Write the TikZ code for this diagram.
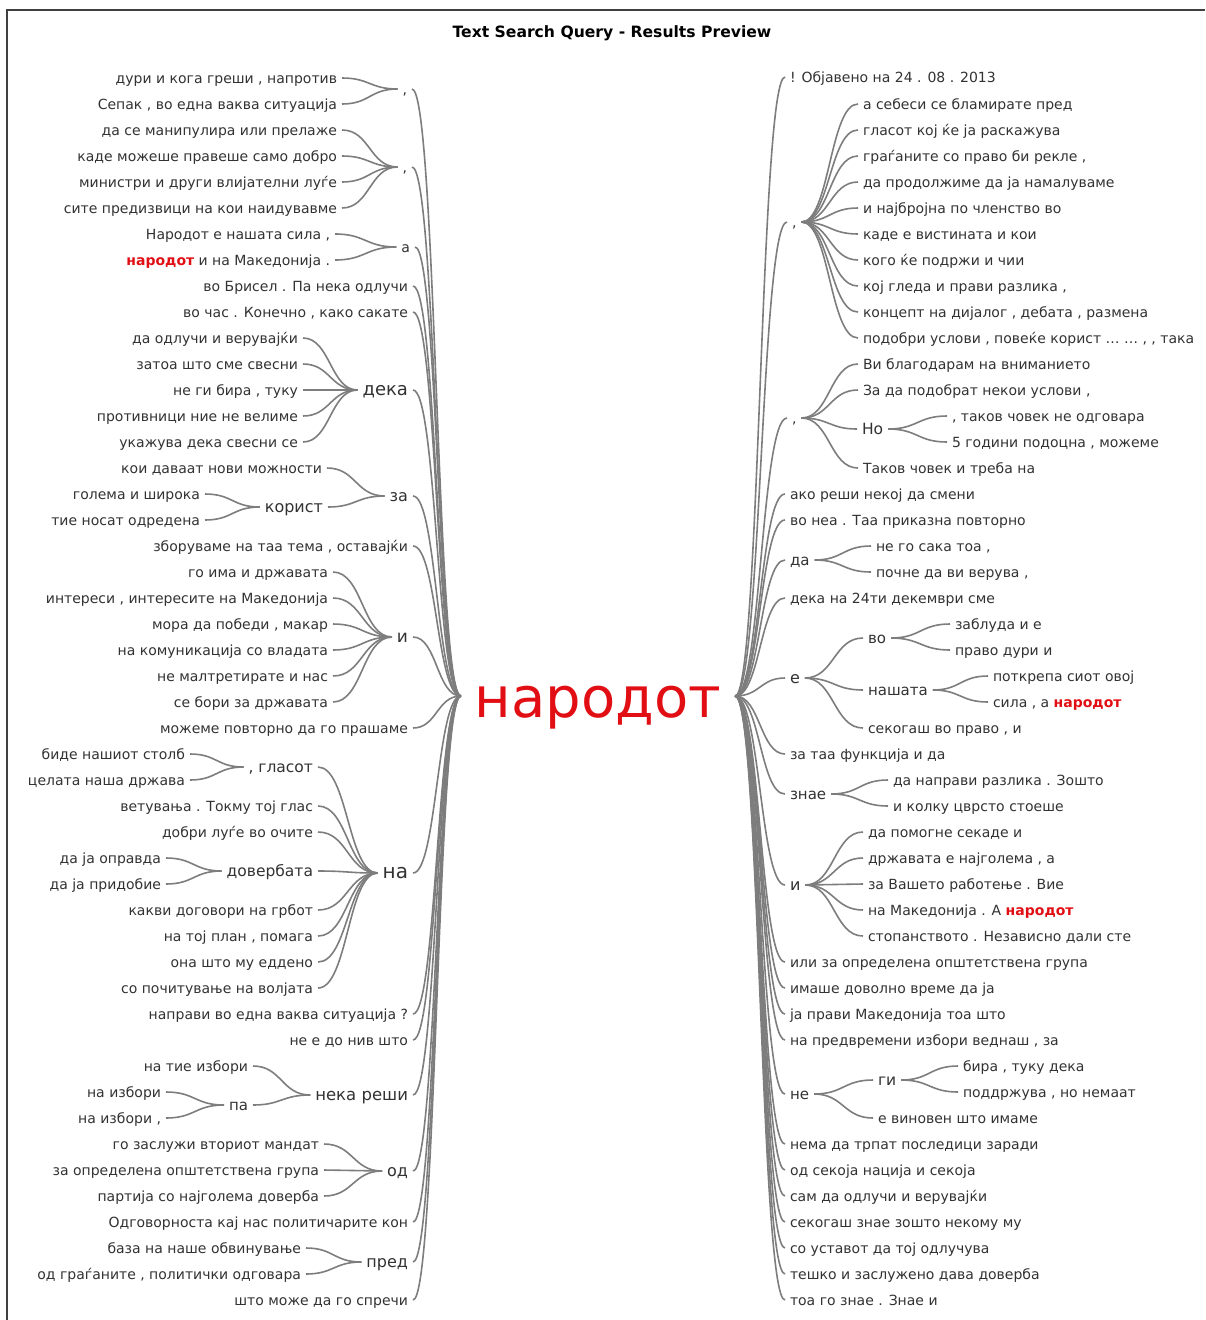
\documentclass[tikz,border=0pt]{standalone}
\usepackage{fontspec}
\setmainfont{DejaVu Sans}
\usetikzlibrary{calc}
\definecolor{hlred}{RGB}{225,15,20}
\definecolor{wiregray}{RGB}{125,125,125}
\definecolor{txtgray}{RGB}{50,50,50}
\newcommand{\hlw}[1]{\textbf{\color{hlred}#1}}
\newcommand{\wlink}[2]{\draw [wire] let \p1=(#1), \p2=(#2) in (\p1) .. controls ({(\x1+\x2)/2},\y1) and ({(\x1+\x2)/2},\y2) .. (\p2);}
\tikzset{
  wire/.style={draw=wiregray, line width=1.6pt},
  word/.style={inner sep=0pt, outer sep=5pt, text height=11pt, text depth=1pt, text=txtgray, font=\fontsize{14}{16}\selectfont},
  lw/.style={word, anchor=east},
  rw/.style={word, anchor=west},
  big/.style={font=\fontsize{#1}{#1}\selectfont},
  root/.style={inner sep=0pt, outer sep=14pt, text height=45pt, text depth=3pt, text=hlred, font=\fontsize{56}{56}\selectfont},
  title/.style={inner sep=0pt, text=black, font=\fontsize{15.6}{18}\bfseries},
  frame/.style={draw=black!75, line width=1.5pt},
}
\begin{document}
\begin{tikzpicture}[x=1pt,y=-1pt]
\useasboundingbox (0,0) rectangle (1205,1320);
\draw [frame] (7,1320) -- (7,10) -- (1205,10);

% Text Node
\node [title] (ttl) at (612,33) {Text Search Query - Results Preview};
\node [root] (root) at (598,696) {народот};

% Text Node (left)
\node [lw] (lc1) at (412,89) {,};
\node [lw] (l1) at (342,78) {дури и кога греши , напротив};
\node [lw] (l2) at (342,104) {Сепак , во една ваква ситуација};
\node [lw] (lc2) at (412,167) {,};
\node [lw] (l3) at (342,130) {да се манипулира или прелаже};
\node [lw] (l4) at (342,156) {каде можеше правеше само добро};
\node [lw] (l5) at (342,182) {министри и други влијателни луѓе};
\node [lw] (l6) at (342,208) {сите предизвици на кои наидувавме};
\node [lw] (la) at (415,247) {а};
\node [lw] (l7) at (335,234) {Народот е нашата сила ,};
\node [lw] (l8) at (335,260) {\hlw{народот} и на Македонија .};
\node [lw] (l9) at (413,286) {во Брисел . Па нека одлучи};
\node [lw] (l10) at (413,312) {во час . Конечно , како сакате};
\node [lw, big=18] (ldeka) at (413,390) {дека};
\node [lw] (l11) at (303,338) {да одлучи и верувајќи};
\node [lw] (l12) at (303,364) {затоа што сме свесни};
\node [lw] (l13) at (303,390) {не ги бира , туку};
\node [lw] (l14) at (303,416) {противници ние не велиме};
\node [lw] (l15) at (303,442) {укажува дека свесни се};
\node [lw, big=16] (lza) at (413,496) {за};
\node [lw] (l16) at (327,468) {кои даваат нови можности};
\node [lw, big=16] (lkor) at (328,507) {корист};
\node [lw] (l17) at (205,494) {голема и широка};
\node [lw] (l18) at (205,520) {тие носат одредена};
\node [lw] (l19) at (413,546) {зборуваме на таа тема , оставајќи};
\node [lw, big=17] (li) at (413,637) {и};
\node [lw] (l20) at (333,572) {го има и државата};
\node [lw] (l21) at (333,598) {интереси , интересите на Македонија};
\node [lw] (l22) at (333,624) {мора да победи , макар};
\node [lw] (l23) at (333,650) {на комуникација со владата};
\node [lw] (l24) at (333,676) {не малтретирате и нас};
\node [lw] (l25) at (333,702) {се бори за државата};
\node [lw] (l26) at (413,728) {можеме повторно да го прашаме};
\node [lw, big=20] (lna) at (413,873) {на};
\node [lw, big=15.5] (lgl) at (318,767) {, гласот};
\node [lw] (l27) at (190,754) {биде нашиот столб};
\node [lw] (l28) at (190,780) {целата наша држава};
\node [lw] (l29) at (318,806) {ветувања . Токму тој глас};
\node [lw] (l30) at (318,832) {добри луѓе во очите};
\node [lw, big=15.5] (ldov) at (318,871) {довербата};
\node [lw] (l31) at (166,858) {да ја оправда};
\node [lw] (l32) at (166,884) {да ја придобие};
\node [lw] (l33) at (318,910) {какви договори на грбот};
\node [lw] (l34) at (318,936) {на тој план , помага};
\node [lw] (l35) at (318,962) {она што му еддено};
\node [lw] (l36) at (318,988) {со почитување на волјата};
\node [lw] (l37) at (413,1014) {направи во една ваква ситуација ?};
\node [lw] (l38) at (413,1040) {не е до нив што};
\node [lw, big=16.5] (lnek) at (413,1095) {нека реши};
\node [lw] (l39) at (253,1066) {на тие избори};
\node [lw, big=15] (lpa) at (253,1105) {па};
\node [lw] (l40) at (166,1092) {на избори};
\node [lw] (l41) at (166,1118) {на избори ,};
\node [lw, big=16] (lod) at (413,1171) {од};
\node [lw] (l42) at (324,1144) {го заслужи вториот мандат};
\node [lw] (l43) at (324,1170) {за определена општетствена група};
\node [lw] (l44) at (324,1196) {партија со најголема доверба};
\node [lw] (l45) at (413,1222) {Одговорноста кај нас политичарите кон};
\node [lw, big=16] (lpred) at (413,1262) {пред};
\node [lw] (l46) at (306,1248) {база на наше обвинување};
\node [lw] (l47) at (306,1274) {од граѓаните , политички одговара};
\node [lw] (l48) at (413,1300) {што може да го спречи};

% Text Node (right)
\node [rw] (r1) at (785,77) {! Објавено на 24 . 08 . 2013};
\node [rw] (rc1) at (787,222) {,};
\node [rw] (r2) at (858,104) {а себеси се бламирате пред};
\node [rw] (r3) at (858,130) {гласот кој ќе ја раскажува};
\node [rw] (r4) at (858,156) {граѓаните со право би рекле ,};
\node [rw] (r5) at (858,182) {да продолжиме да ја намалуваме};
\node [rw] (r6) at (858,208) {и најбројна по членство во};
\node [rw] (r7) at (858,234) {каде е вистината и кои};
\node [rw] (r8) at (858,260) {кого ќе подржи и чии};
\node [rw] (r9) at (858,286) {кој гледа и прави разлика ,};
\node [rw] (r10) at (858,312) {концепт на дијалог , дебата , размена};
\node [rw] (r11) at (858,338) {подобри услови , повеќе корист … … , , така};
\node [rw] (rc2) at (787,418) {,};
\node [rw] (r12) at (858,364) {Ви благодарам на вниманието};
\node [rw] (r13) at (858,390) {За да подобрат некои услови ,};
\node [rw, big=15.5] (rno) at (857,429) {Но};
\node [rw] (r14) at (947,416) {, таков човек не одговара};
\node [rw] (r15) at (947,442) {5 години подоцна , можеме};
\node [rw] (r16) at (858,468) {Таков човек и треба на};
\node [rw] (r17) at (785,494) {ако реши некој да смени};
\node [rw] (r18) at (785,520) {во неа . Таа приказна повторно};
\node [rw, big=15] (rda) at (785,560) {да};
\node [rw] (r19) at (871,546) {не го сака тоа ,};
\node [rw] (r20) at (871,572) {почне да ви верува ,};
\node [rw] (r21) at (785,598) {дека на 24ти декември сме};
\node [rw, big=16] (re) at (785,678) {е};
\node [rw, big=15] (rvo) at (863,638) {во};
\node [rw] (r22) at (950,624) {заблуда и е};
\node [rw] (r23) at (950,650) {право дури и};
\node [rw, big=15] (rnas) at (863,690) {нашата};
\node [rw] (r24) at (988,676) {поткрепа сиот овој};
\node [rw] (r25) at (988,702) {сила , а \hlw{народот}};
\node [rw] (r26) at (863,728) {секогаш во право , и};
\node [rw] (r27) at (785,754) {за таа функција и да};
\node [rw, big=15] (rzn) at (785,794) {знае};
\node [rw] (r28) at (888,780) {да направи разлика . Зошто};
\node [rw] (r29) at (888,806) {и колку цврсто стоеше};
\node [rw, big=16] (ri) at (785,885) {и};
\node [rw] (r30) at (863,832) {да помогне секаде и};
\node [rw] (r31) at (863,858) {државата е најголема , а};
\node [rw] (r32) at (863,884) {за Вашето работење . Вие};
\node [rw] (r33) at (863,910) {на Македонија . А \hlw{народот}};
\node [rw] (r34) at (863,936) {стопанството . Независно дали сте};
\node [rw] (r35) at (785,962) {или за определена општетствена група};
\node [rw] (r36) at (785,988) {имаше доволно време да ја};
\node [rw] (r37) at (785,1014) {ја прави Македонија тоа што};
\node [rw] (r38) at (785,1040) {на предвремени избори веднаш , за};
\node [rw, big=15] (rne) at (785,1094) {не};
\node [rw, big=15.5] (rgi) at (873,1080) {ги};
\node [rw] (r39) at (958,1066) {бира , туку дека};
\node [rw] (r40) at (958,1092) {поддржува , но немаат};
\node [rw] (r41) at (873,1118) {е виновен што имаме};
\node [rw] (r42) at (785,1144) {нема да трпат последици заради};
\node [rw] (r43) at (785,1170) {од секоја нација и секоја};
\node [rw] (r44) at (785,1196) {сам да одлучи и верувајќи};
\node [rw] (r45) at (785,1222) {секогаш знае зошто некому му};
\node [rw] (r46) at (785,1248) {со уставот да тој одлучува};
\node [rw] (r47) at (785,1274) {тешко и заслужено дава доверба};
\node [rw] (r48) at (785,1300) {тоа го знае . Знае и};

%Curve Lines (root, left)
\wlink{root.west}{lc1.east} \wlink{root.west}{lc2.east} \wlink{root.west}{la.east}
\wlink{root.west}{l9.east} \wlink{root.west}{l10.east} \wlink{root.west}{ldeka.east}
\wlink{root.west}{lza.east} \wlink{root.west}{l19.east} \wlink{root.west}{li.east}
\wlink{root.west}{l26.east} \wlink{root.west}{lna.east} \wlink{root.west}{l37.east}
\wlink{root.west}{l38.east} \wlink{root.west}{lnek.east} \wlink{root.west}{lod.east}
\wlink{root.west}{l45.east} \wlink{root.west}{lpred.east} \wlink{root.west}{l48.east}

%Curve Lines (left)
\wlink{lc1.west}{l1.east} \wlink{lc1.west}{l2.east}
\wlink{lc2.west}{l3.east} \wlink{lc2.west}{l4.east} \wlink{lc2.west}{l5.east} \wlink{lc2.west}{l6.east}
\wlink{la.west}{l7.east} \wlink{la.west}{l8.east}
\wlink{ldeka.west}{l11.east} \wlink{ldeka.west}{l12.east} \wlink{ldeka.west}{l13.east}
\wlink{ldeka.west}{l14.east} \wlink{ldeka.west}{l15.east}
\wlink{lza.west}{l16.east} \wlink{lza.west}{lkor.east}
\wlink{lkor.west}{l17.east} \wlink{lkor.west}{l18.east}
\wlink{li.west}{l20.east} \wlink{li.west}{l21.east} \wlink{li.west}{l22.east}
\wlink{li.west}{l23.east} \wlink{li.west}{l24.east} \wlink{li.west}{l25.east}
\wlink{lna.west}{lgl.east} \wlink{lna.west}{l29.east} \wlink{lna.west}{l30.east}
\wlink{lna.west}{ldov.east} \wlink{lna.west}{l33.east} \wlink{lna.west}{l34.east}
\wlink{lna.west}{l35.east} \wlink{lna.west}{l36.east}
\wlink{lgl.west}{l27.east} \wlink{lgl.west}{l28.east}
\wlink{ldov.west}{l31.east} \wlink{ldov.west}{l32.east}
\wlink{lnek.west}{l39.east} \wlink{lnek.west}{lpa.east}
\wlink{lpa.west}{l40.east} \wlink{lpa.west}{l41.east}
\wlink{lod.west}{l42.east} \wlink{lod.west}{l43.east} \wlink{lod.west}{l44.east}
\wlink{lpred.west}{l46.east} \wlink{lpred.west}{l47.east}

%Curve Lines (root, right)
\wlink{root.east}{r1.west} \wlink{root.east}{rc1.west} \wlink{root.east}{rc2.west}
\wlink{root.east}{r17.west} \wlink{root.east}{r18.west} \wlink{root.east}{rda.west}
\wlink{root.east}{r21.west} \wlink{root.east}{re.west} \wlink{root.east}{r27.west}
\wlink{root.east}{rzn.west} \wlink{root.east}{ri.west} \wlink{root.east}{r35.west}
\wlink{root.east}{r36.west} \wlink{root.east}{r37.west} \wlink{root.east}{r38.west}
\wlink{root.east}{rne.west} \wlink{root.east}{r42.west} \wlink{root.east}{r43.west}
\wlink{root.east}{r44.west} \wlink{root.east}{r45.west} \wlink{root.east}{r46.west}
\wlink{root.east}{r47.west} \wlink{root.east}{r48.west}

%Curve Lines (right)
\wlink{rc1.east}{r2.west} \wlink{rc1.east}{r3.west} \wlink{rc1.east}{r4.west}
\wlink{rc1.east}{r5.west} \wlink{rc1.east}{r6.west} \wlink{rc1.east}{r7.west}
\wlink{rc1.east}{r8.west} \wlink{rc1.east}{r9.west} \wlink{rc1.east}{r10.west}
\wlink{rc1.east}{r11.west}
\wlink{rc2.east}{r12.west} \wlink{rc2.east}{r13.west} \wlink{rc2.east}{rno.west} \wlink{rc2.east}{r16.west}
\wlink{rno.east}{r14.west} \wlink{rno.east}{r15.west}
\wlink{rda.east}{r19.west} \wlink{rda.east}{r20.west}
\wlink{re.east}{rvo.west} \wlink{re.east}{rnas.west} \wlink{re.east}{r26.west}
\wlink{rvo.east}{r22.west} \wlink{rvo.east}{r23.west}
\wlink{rnas.east}{r24.west} \wlink{rnas.east}{r25.west}
\wlink{rzn.east}{r28.west} \wlink{rzn.east}{r29.west}
\wlink{ri.east}{r30.west} \wlink{ri.east}{r31.west} \wlink{ri.east}{r32.west}
\wlink{ri.east}{r33.west} \wlink{ri.east}{r34.west}
\wlink{rne.east}{rgi.west} \wlink{rne.east}{r41.west}
\wlink{rgi.east}{r39.west} \wlink{rgi.east}{r40.west}

\end{tikzpicture}
\end{document}
